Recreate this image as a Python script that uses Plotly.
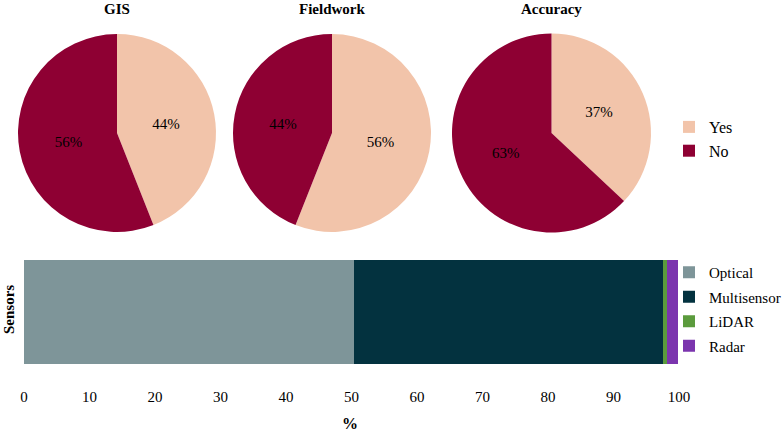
import plotly.graph_objects as go

W, H = 782, 432

# pie data
pie_titles = ["GIS", "Fieldwork", "Accuracy"]
pie_labels = ["Yes", "No"]
gis_values = [44, 56]
fieldwork_values = [56, 44]
accuracy_values = [37, 63]

# sensor bar data (%)
sensor_names = ["Optical", "Multisensor", "LiDAR", "Radar"]
sensor_values = [50.4, 47.2, 0.6, 1.6]

PIE_COLORS = ["#F2C4AA", "#8E0033"]
SENSOR_COLORS = ["#7E9599", "#03323F", "#5B9B3D", "#7B35AE"]
FONT = "Liberation Serif, Times New Roman, serif"


def px(x):
    return x / W


def py(y):
    return 1 - y / H


fig = go.Figure()

pie_values = [gis_values, fieldwork_values, accuracy_values]
pie_boxes = [(18, 216), (233, 431), (452, 651)]  # pixel extents in x
for i, (title, vals) in enumerate(zip(pie_titles, pie_values)):
    x0, x1 = pie_boxes[i]
    fig.add_trace(go.Pie(
        labels=pie_labels,
        values=vals,
        sort=False,
        direction="clockwise",
        rotation=0,
        textinfo="percent",
        textposition="inside",
        insidetextorientation="horizontal",
        textfont=dict(family=FONT, size=15, color="black"),
        marker=dict(colors=PIE_COLORS, line=dict(width=0)),
        domain=dict(x=[px(x0), px(x1)], y=[py(233), py(33)]),
        showlegend=(i == 0),
        legend="legend",
        hoverinfo="label+percent",
    ))
    fig.add_annotation(
        text="<b>%s</b>" % title, x=px((x0 + x1) / 2), y=py(9),
        xref="paper", yref="paper", showarrow=False,
        xanchor="center", yanchor="middle",
        font=dict(family=FONT, size=15, color="black"),
    )

for name, val, col in zip(sensor_names, sensor_values, SENSOR_COLORS):
    fig.add_trace(go.Bar(
        x=[val], y=["Sensors"], name=name, orientation="h",
        marker=dict(color=col, line=dict(width=0)),
        width=1, legend="legend2", legendgroup=name,
    ))

fig.add_annotation(
    text="<b>Sensors</b>", x=px(9), y=py(310), xref="paper", yref="paper",
    showarrow=False, textangle=-90, xanchor="center", yanchor="middle",
    font=dict(family=FONT, size=15, color="black"),
)
fig.add_annotation(
    text="<b>%</b>", x=px(350), y=py(423), xref="paper", yref="paper",
    showarrow=False, xanchor="center", yanchor="middle",
    font=dict(family=FONT, size=16, color="black"),
)

fig.update_layout(
    width=W, height=H,
    margin=dict(l=0, r=0, t=0, b=0, autoexpand=False),
    paper_bgcolor="white", plot_bgcolor="white",
    font=dict(family=FONT, size=15, color="black"),
    barmode="stack",
    xaxis=dict(domain=[px(24), px(679)], range=[0, 100], dtick=10,
               showgrid=False, zeroline=False, showline=False, ticks="",
               ticklabelstandoff=22, tickfont=dict(family=FONT, size=15)),
    yaxis=dict(domain=[py(364), py(260)], range=[-0.5, 0.5],
               showticklabels=False, showgrid=False, zeroline=False, showline=False),
    legend=dict(x=px(669), y=py(139), xanchor="left", yanchor="middle",
                bgcolor="rgba(0,0,0,0)", font=dict(family=FONT, size=16)),
    legend2=dict(x=px(669), y=py(309), xanchor="left", yanchor="middle",
                 bgcolor="rgba(0,0,0,0)", tracegroupgap=2, traceorder="grouped",
                 font=dict(family=FONT, size=15)),
)

# drop the default page margin so the figure sits at the window's corner
fig.write_html("out.html", config={"displayModeBar": False},
               post_script="document.body.style.margin='0';"
                           "document.body.style.overflow='hidden';")
